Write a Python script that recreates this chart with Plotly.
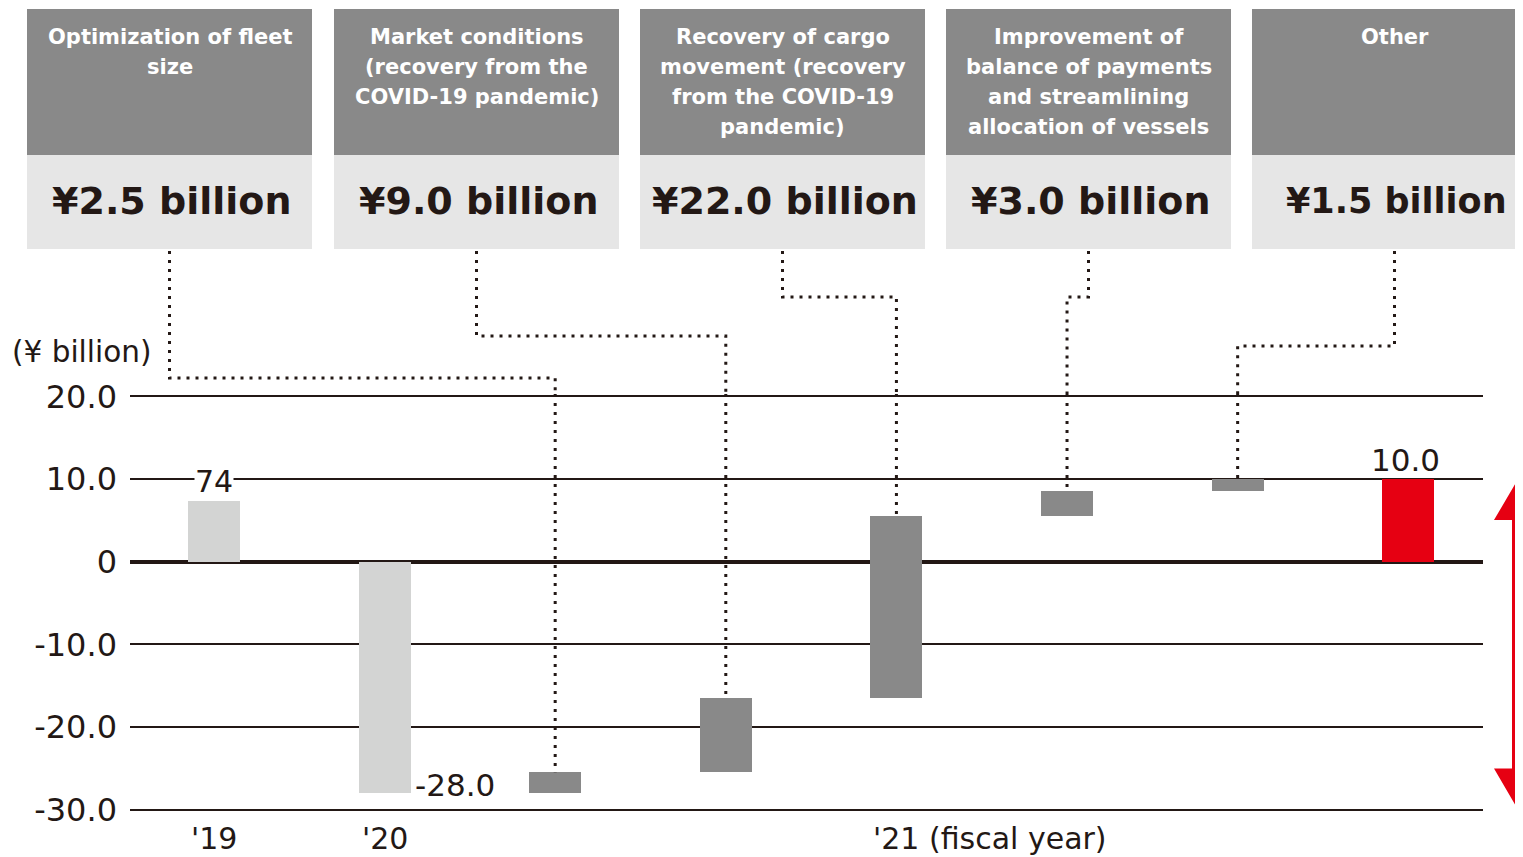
import plotly.graph_objects as go

# ---------------- data ----------------
bar_labels = ["'19", "'20", "fleet", "market", "cargo", "balance", "other", "'21"]
fy19_value = 7.4
fy20_value = -28.0
factor_values = [2.5, 9.0, 22.0, 3.0, 1.5]
fy21_value = 10.0

factor_titles = [
    ["Optimization of fleet", "size"],
    ["Market conditions", "(recovery from the", "COVID-19 pandemic)"],
    ["Recovery of cargo", "movement (recovery", "from the COVID-19", "pandemic)"],
    ["Improvement of", "balance of payments", "and streamlining", "allocation of vessels"],
    ["Other"],
]
factor_amounts = ["¥2.5 billion", "¥9.0 billion", "¥22.0 billion", "¥3.0 billion", "¥1.5 billion"]

year_labels = ["'19", "'20", "'21 (fiscal year)"]
y_tickvals = [20, 10, 0, -10, -20, -30]
y_ticktext = ["20.0", "10.0", "0", "-10.0", "-20.0", "-30.0"]
label_fy19 = "74"
label_fy20 = "-28.0"
label_fy21 = "10.0"
unit_label = "(¥ billion)"

# ---------------- styles ----------------
TXT = "#231815"
DARK = "#898989"
LIGHT_BOX = "#e6e6e6"
LIGHT_BAR = "#d3d4d3"
RED = "#e60012"
FONT = "DejaVu Sans"

OFF = 8  # page body margin
W, H = 1523, 857 - OFF
PW, PH = 1353, 418
ML, MT = 130 - OFF, 394 - OFF
MR = W - ML - PW
MB = H - MT - PH
XR = [-0.492, 7.438]
YR = [-30.3, 20.3]


def xdata(px):
    return XR[0] + (px - OFF - ML) / PW * (XR[1] - XR[0])


def xpaper(px):
    return (px - OFF - ML) / PW


def ypaper(py):
    return (MT + PH - (py - OFF)) / PH


# bars built from the data (waterfall)
bases = [0, 0]
heights = [fy19_value, fy20_value]
cum = fy20_value
for v in factor_values:
    bases.append(cum)
    heights.append(v)
    cum += v
bases.append(0)
heights.append(fy21_value)
colors = [LIGHT_BAR, LIGHT_BAR] + [DARK] * len(factor_values) + [RED]
xs = list(range(len(bar_labels)))

fig = go.Figure()
fig.add_trace(go.Bar(
    x=xs, y=heights, base=bases, width=0.305,
    marker=dict(color=colors, line=dict(width=0)),
    hoverinfo="skip", showlegend=False,
))

shapes = []
annotations = []

# header boxes
box_lefts = [27, 334, 640, 946, 1252]
box_w = 285
amount_sizes = [38, 38, 38, 38, 35]
for i, left in enumerate(box_lefts):
    shapes.append(dict(type="rect", xref="paper", yref="paper",
                       x0=xpaper(left), x1=xpaper(left + box_w),
                       y0=ypaper(155), y1=ypaper(9),
                       fillcolor=DARK, line=dict(width=0), layer="above"))
    shapes.append(dict(type="rect", xref="paper", yref="paper",
                       x0=xpaper(left), x1=xpaper(left + box_w),
                       y0=ypaper(249), y1=ypaper(155),
                       fillcolor=LIGHT_BOX, line=dict(width=0), layer="above"))
    cx = left + box_w / 2
    for j, line in enumerate(factor_titles[i]):
        annotations.append(dict(xref="paper", yref="paper", x=xpaper(cx), y=ypaper(37 + 30 * j),
                                text="<b>" + line + "</b>", showarrow=False,
                                xanchor="center", yanchor="middle",
                                font=dict(family=FONT, size=21, color="white")))
    annotations.append(dict(xref="paper", yref="paper", x=xpaper(cx + 2), y=ypaper(201),
                            text="<b>" + factor_amounts[i] + "</b>", showarrow=False,
                            xanchor="center", yanchor="middle",
                            font=dict(family=FONT, size=amount_sizes[i], color=TXT)))

# dotted connectors
levels = [378, 336, 297, 297, 346]
dot = dict(color=TXT, width=3, dash="3px,6px")
for i, left in enumerate(box_lefts):
    hx = xdata(left + box_w / 2)
    bi = 2 + i
    bx = xs[bi]
    top = max(bases[bi], bases[bi] + heights[bi])
    path = (f"M {hx},{ypaper(251)} L {hx},{ypaper(levels[i])} "
            f"L {bx},{ypaper(levels[i])} L {bx},1")
    shapes.append(dict(type="path", xref="x", yref="paper", path=path,
                       line=dot, layer="above"))
    shapes.append(dict(type="line", xref="x", yref="y", x0=bx, x1=bx,
                       y0=YR[1], y1=top, line=dot, layer="above"))

# red double arrow
c = xpaper(1518)
sw = 6 / PW
hw = 24 / PW
yt, yb = fy21_value, -30
hl = 41 / PH * (YR[1] - YR[0])
arrow = (f"M {c},{yt} L {c + hw},{yt - hl} L {c + sw},{yt - hl} L {c + sw},{yb + hl} "
         f"L {c + hw},{yb + hl} L {c},{yb} L {c - hw},{yb + hl} L {c - sw},{yb + hl} "
         f"L {c - sw},{yt - hl} L {c - hw},{yt - hl} Z")
shapes.append(dict(type="path", xref="paper", yref="y", path=arrow,
                   fillcolor=RED, line=dict(width=0), layer="above"))

# data labels
annotations.append(dict(x=xs[0], y=fy19_value, text=label_fy19, showarrow=False,
                        xanchor="center", yanchor="middle", yshift=19,
                        bgcolor="white", borderpad=0,
                        font=dict(family=FONT, size=30, color=TXT)))
annotations.append(dict(x=xs[1], y=fy20_value, text=label_fy20, showarrow=False,
                        xanchor="left", yanchor="middle", xshift=28, yshift=8,
                        font=dict(family=FONT, size=31, color=TXT)))
annotations.append(dict(x=xs[7], y=fy21_value, text=label_fy21, showarrow=False,
                        xanchor="center", yanchor="middle", xshift=-3, yshift=19,
                        font=dict(family=FONT, size=31, color=TXT)))

# year labels
annotations.append(dict(x=xs[0], xref="x", yref="paper", y=ypaper(838), text=year_labels[0],
                        showarrow=False, xanchor="center", yanchor="middle",
                        font=dict(family=FONT, size=30, color=TXT)))
annotations.append(dict(x=xs[1], xref="x", yref="paper", y=ypaper(838), text=year_labels[1],
                        showarrow=False, xanchor="center", yanchor="middle",
                        font=dict(family=FONT, size=30, color=TXT)))
annotations.append(dict(x=xs[4], xref="x", yref="paper", y=ypaper(838), text=year_labels[2],
                        showarrow=False, xanchor="left", yanchor="middle", xshift=-25,
                        font=dict(family=FONT, size=30, color=TXT)))

# unit label
annotations.append(dict(xref="paper", yref="paper", x=xpaper(10), y=ypaper(352),
                        text=unit_label, showarrow=False, xanchor="left", yanchor="middle",
                        font=dict(family=FONT, size=29.5, color=TXT)))

fig.update_layout(
    width=W, height=H, autosize=False,
    margin=dict(l=ML, r=MR, t=MT, b=MB, pad=0),
    paper_bgcolor="white", plot_bgcolor="white",
    shapes=shapes, annotations=annotations,
    showlegend=False, bargap=0,
    xaxis=dict(range=XR, showticklabels=False, showgrid=False, zeroline=False,
               showline=False, ticks="", fixedrange=True),
    yaxis=dict(range=YR, tickvals=y_tickvals, ticktext=y_ticktext,
               showgrid=True, gridcolor=TXT, gridwidth=1.5,
               zeroline=True, zerolinecolor=TXT, zerolinewidth=4,
               showline=False, ticks="", ticklabelstandoff=12,
               tickfont=dict(family=FONT, size=32, color=TXT), fixedrange=True),
)

fig.write_html("out.html")
